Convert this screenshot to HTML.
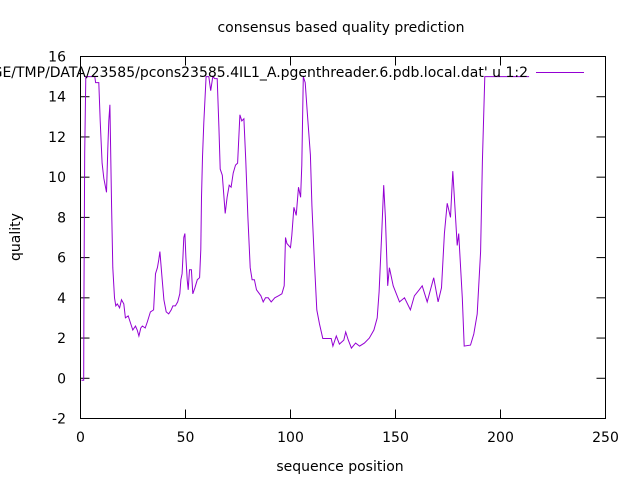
<!DOCTYPE html>
<html><head><meta charset="utf-8"><style>
html,body{margin:0;padding:0;background:#fff;}
svg{display:block;font-family:"DejaVu Sans","Liberation Sans",sans-serif;}
</style></head><body>
<svg id="chart" width="640" height="480" viewBox="0 0 640 480" xmlns="http://www.w3.org/2000/svg">
<rect width="640" height="480" fill="#fff"/>
<text x="341" y="32" text-anchor="middle" font-size="14">consensus based quality prediction</text>
<text x="0" y="0" transform="translate(20,237) rotate(-90)" text-anchor="middle" font-size="14">quality</text>
<text x="340" y="471" text-anchor="middle" font-size="14">sequence position</text>
<g id="ticks"></g>
<g id="series"></g>
<text x="528" y="77" text-anchor="end" font-size="14">'/home/WEBPAGE/TMP/DATA/23585/pcons23585.4IL1_A.pgenthreader.6.pdb.local.dat' u 1:2</text>
<line x1="536" y1="72.5" x2="584" y2="72.5" stroke="#9400d3" stroke-width="1"/>
<rect x="80.5" y="56.5" width="525" height="362" fill="none" stroke="#000" stroke-width="1"/>
</svg>
<script>
const xTicks = [0, 50, 100, 150, 200, 250];
const yTicks = [-2, 0, 2, 4, 6, 8, 10, 12, 14, 16];
const seqPos = [0.5,1.5,1.6,2.0,2.5,6.8,7.2,8.7,9.4,10.3,11.1,12.4,13.0,13.5,14.0,14.8,15.4,16.2,16.8,17.5,18.6,19.5,20.6,21.4,22.7,23.8,24.9,26.2,27,27.8,28.7,29.5,30.8,31.8,33.3,34.8,35.7,36.6,37.3,37.8,38.9,39.7,40.8,42.0,43.2,44.0,45.2,46.3,47.3,47.8,48.4,48.8,49.2,49.7,50.2,50.8,51.3,51.9,52.8,53.5,54.5,55.6,56.7,57.3,57.6,58.1,58.7,59.8,61.1,62.0,63.0,63.9,65.1,65.9,66.5,67.5,68.9,69.8,70.8,71.7,72.7,73.8,74.8,75.9,76.8,77.8,78.7,79.7,80.8,81.7,82.8,83.8,85.9,87.0,88.1,89.4,90.8,92.5,94.3,95.9,97.0,97.6,98.3,100,100.6,101.6,102.7,103.8,104.8,105.4,106.1,107.0,108.0,109.5,110.2,111.4,112.5,113.8,115.4,119.4,120.2,121.8,123.3,125.4,126.3,127.5,129.0,131.0,132.9,135.2,137.5,139.7,141.3,142.2,143.5,144.4,145.2,146.3,147.1,148.9,151.9,154.3,157.1,159.0,161.3,162.7,165.1,168.2,170.3,171.9,173.3,174.6,176.2,177.3,179.4,180.1,181.8,182.7,185.7,187.3,188.9,190.5,191.4,192.5,213.6];
const quality = [-0.1,-0.1,3.6,11.2,15,15,14.7,14.7,12.8,10.7,9.95,9.25,11.4,12.8,13.6,8.5,5.5,4.0,3.6,3.7,3.5,3.9,3.7,3.0,3.1,2.75,2.4,2.6,2.4,2.1,2.5,2.6,2.5,2.8,3.3,3.4,5.2,5.5,5.9,6.3,4.9,3.9,3.3,3.2,3.4,3.6,3.6,3.8,4.2,4.9,5.2,6.1,7.0,7.2,6.0,4.9,4.4,5.4,5.4,4.2,4.5,4.9,5.0,6.4,9.0,11.0,12.7,15,15,14.3,15,14.9,14.9,12.5,10.4,10.1,8.2,9.0,9.6,9.5,10.2,10.6,10.7,13.1,12.8,12.9,10.8,8.0,5.5,4.9,4.9,4.4,4.1,3.8,4.0,4.0,3.8,4.0,4.1,4.2,4.6,7.0,6.7,6.5,7.1,8.5,8.1,9.5,9.0,10.6,15,14.7,13.2,11.1,8.6,5.8,3.4,2.7,1.98,1.98,1.6,2.1,1.7,1.9,2.3,1.9,1.5,1.75,1.6,1.75,2.0,2.4,3.0,4.3,7.3,9.6,8.0,4.6,5.5,4.6,3.8,4.0,3.4,4.1,4.4,4.6,3.8,5.0,3.8,4.5,7.2,8.7,8.0,10.3,6.6,7.2,4.0,1.6,1.65,2.2,3.2,6.3,10.8,15,15];

const X0 = 80.5, X1 = 605.5, Y0 = 418.5, Y1 = 56.5;
const xMin = 0, xMax = 250, yMin = -2, yMax = 16;
function sx(v){ return X0 + (v - xMin) / (xMax - xMin) * (X1 - X0); }
function sy(v){ return Y0 - (v - yMin) / (yMax - yMin) * (Y0 - Y1); }
const NS = "http://www.w3.org/2000/svg";
const tg = document.getElementById('ticks');
xTicks.forEach(t => {
  const x = sx(t);
  const l1 = document.createElementNS(NS, 'line');
  l1.setAttribute('x1', x); l1.setAttribute('x2', x); l1.setAttribute('y1', Y0); l1.setAttribute('y2', Y0 - 9);
  l1.setAttribute('stroke', '#000');
  
  
  tg.appendChild(l1);
  const l2 = document.createElementNS(NS, 'line');
  l2.setAttribute('x1', x); l2.setAttribute('x2', x); l2.setAttribute('y1', Y1); l2.setAttribute('y2', Y1 + 9);
  l2.setAttribute('stroke', '#000');
  
  
  tg.appendChild(l2);
  const tx = document.createElementNS(NS, 'text');
  tx.setAttribute('x', x); tx.setAttribute('y', 442);
  tx.setAttribute('text-anchor', 'middle'); tx.setAttribute('font-size', '14');
  tx.textContent = t;
  
  
  tg.appendChild(tx);
});
yTicks.forEach(t => {
  const y = sy(t);
  const l1 = document.createElementNS(NS, 'line');
  l1.setAttribute('x1', X0); l1.setAttribute('x2', X0 + 9); l1.setAttribute('y1', y); l1.setAttribute('y2', y);
  l1.setAttribute('stroke', '#000');
  
  
  tg.appendChild(l1);
  const l2 = document.createElementNS(NS, 'line');
  l2.setAttribute('x1', X1); l2.setAttribute('x2', X1 - 9); l2.setAttribute('y1', y); l2.setAttribute('y2', y);
  l2.setAttribute('stroke', '#000');
  
  
  tg.appendChild(l2);
  const tx = document.createElementNS(NS, 'text');
  tx.setAttribute('x', 66); tx.setAttribute('y', y + 5);
  tx.setAttribute('text-anchor', 'end'); tx.setAttribute('font-size', '14');
  tx.textContent = t;
  
  
  tg.appendChild(tx);
});
const sg = document.getElementById('series');
const pts = seqPos.map((p, i) => sx(p).toFixed(1) + ',' + sy(quality[i]).toFixed(1)).join(' ');
const pl = document.createElementNS(NS, 'polyline');
pl.setAttribute('points', pts);
pl.setAttribute('fill', 'none');
pl.setAttribute('stroke', '#9400d3');
pl.setAttribute('stroke-width', '1');


sg.appendChild(pl);
</script>
</body></html>
